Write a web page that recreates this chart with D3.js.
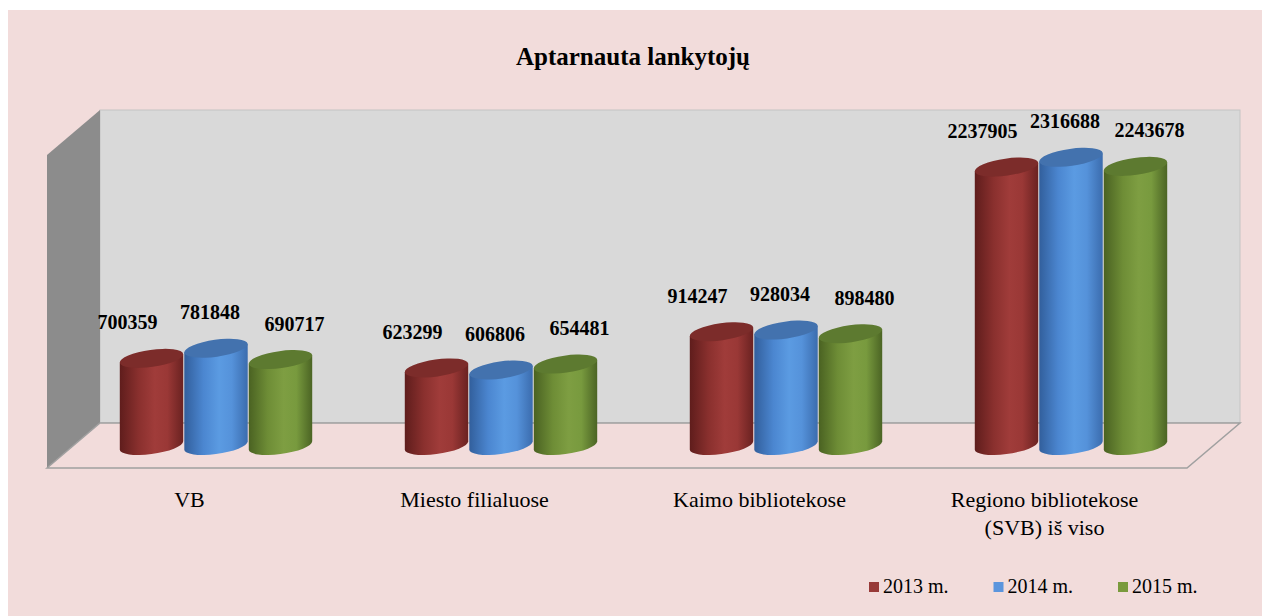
<!DOCTYPE html>
<html>
<head>
<meta charset="utf-8">
<script src="https://cdn.jsdelivr.net/npm/d3@7.9.0/dist/d3.min.js"></script>
<style>
  body { margin: 0; background: #fff; }
  svg { display: block; font-family: "Liberation Serif", "Times New Roman", serif; }
</style>
</head>
<body>
<svg id="chart" width="1264" height="616"></svg>
<script>
const categories = ['VB', 'Miesto filialuose', 'Kaimo bibliotekose', 'Regiono bibliotekose (SVB) iš viso'];
const categoryLines = [['VB'], ['Miesto filialuose'], ['Kaimo bibliotekose'], ['Regiono bibliotekose', '(SVB) iš viso']];
const seriesNames = ['2013 m.', '2014 m.', '2015 m.'];
const values2013 = [700359, 623299, 914247, 2237905];
const values2014 = [781848, 606806, 928034, 2316688];
const values2015 = [690717, 654481, 898480, 2243678];
const seriesValues = [values2013, values2014, values2015];

// colours per series: gradient stops for the body, top cap, legend swatch
const palette = [
  { stops: ['#5f1d1c', '#8a302e', '#a03c3a', '#9a3836', '#6a2221'], top: '#7c2c2a', swatch: '#983a38' },
  { stops: ['#325f9c', '#4b86d0', '#5b9be2', '#5592da', '#3b6cae'], top: '#4372ae', swatch: '#5b95dd' },
  { stops: ['#4a6222', '#6e8d36', '#7e9e42', '#789a3e', '#4b6424'], top: '#5d7a30', swatch: '#7a9a3c' }
];

const svg = d3.select('#chart');
const defs = svg.append('defs');

// box geometry (oblique 3D)
const depthX = 53, depthY = 45;
const front = { x0: 47, x1: 1187, yFloor: 468, yTop: 155 };

svg.append('rect')
  .attr('x', 8).attr('y', 10).attr('width', 1254).attr('height', 606)
  .attr('fill', '#f2dcdb');

// back wall
svg.append('rect')
  .attr('x', front.x0 + depthX).attr('y', front.yTop - depthY)
  .attr('width', front.x1 - front.x0).attr('height', front.yFloor - front.yTop)
  .attr('fill', '#d9d9d9').attr('stroke', '#c4c4c4').attr('stroke-width', 1);

// side wall
svg.append('path')
  .attr('d', `M${front.x0},${front.yTop} L${front.x0 + depthX},${front.yTop - depthY} L${front.x0 + depthX},${front.yFloor - depthY} L${front.x0},${front.yFloor} Z`)
  .attr('fill', '#8c8c8c');

// floor
svg.append('path')
  .attr('d', `M${front.x0},${front.yFloor} L${front.x0 + depthX},${front.yFloor - depthY} L${front.x1 + depthX},${front.yFloor - depthY} L${front.x1},${front.yFloor} Z`)
  .attr('fill', '#f2dcdb').attr('stroke', '#a0a0a0').attr('stroke-width', 1.5);

// scales at mid depth
const midX = depthX / 2, midY = depthY / 2;
const x = d3.scaleBand()
  .domain(categories)
  .range([front.x0 + midX, front.x1 + midX]);
const xs = d3.scaleBand()
  .domain(seriesNames)
  .range([-96.75, 96.75]);
const y = d3.scaleLinear()
  .domain([0, 2500000])
  .range([front.yFloor - midY, front.yFloor - midY - 311]);

// gradients
palette.forEach((p, i) => {
  const g = defs.append('linearGradient').attr('id', `grad${i}`)
    .attr('x1', 0).attr('x2', 1).attr('y1', 0).attr('y2', 0);
  const offs = [0, 0.3, 0.55, 0.75, 1];
  p.stops.forEach((c, k) => g.append('stop').attr('offset', offs[k]).attr('stop-color', c));
});

// cylinders
const rx = 32, ry = 8.5, tilt = -8;
const th = tilt * Math.PI / 180;
const ext = Math.sqrt(rx * rx * Math.cos(th) ** 2 + ry * ry * Math.sin(th) ** 2);
const dyExt = -(rx * rx - ry * ry) * Math.sin(th) * Math.cos(th) / ext;

const bars = [];
categories.forEach((c, ci) => {
  seriesNames.forEach((s, si) => {
    bars.push({ cat: c, series: s, si, value: seriesValues[si][ci] });
  });
});

const labelDx = [-24, -6, 14];

const cyl = svg.append('g').selectAll('g')
  .data(bars)
  .join('g');

cyl.each(function(d) {
  const g = d3.select(this);
  const cx = x(d.cat) + x.bandwidth() / 2 + xs(d.series) + xs.bandwidth() / 2;
  const yb = y(0), yt = y(d.value);
  const body = `M${cx - ext},${yt + dyExt} L${cx - ext},${yb + dyExt} ` +
    `A${rx},${ry} ${tilt} 0 0 ${cx + ext},${yb - dyExt} L${cx + ext},${yt - dyExt} Z`;
  g.append('path').attr('d', body).attr('fill', `url(#grad${d.si})`);
  g.append('ellipse')
    .attr('cx', cx).attr('cy', yt).attr('rx', rx).attr('ry', ry)
    .attr('transform', `rotate(${tilt},${cx},${yt})`)
    .attr('fill', palette[d.si].top);
  d.cx = cx; d.yt = yt;
});

// value labels
svg.append('g').selectAll('text')
  .data(bars)
  .join('text')
    .attr('x', d => d.cx + labelDx[d.si])
    .attr('y', d => d.yt - 29)
    .attr('text-anchor', 'middle')
    .attr('font-size', 20)
    .attr('font-weight', 'bold')
    .attr('fill', '#000')
    .text(d => d.value);

// category labels (front edge of floor)
const xFront = d3.scaleBand().domain(categories).range([front.x0, front.x1]);
const catG = svg.append('g').selectAll('text')
  .data(categories)
  .join('text')
    .attr('x', d => xFront(d) + xFront.bandwidth() / 2)
    .attr('y', 507)
    .attr('text-anchor', 'middle')
    .attr('font-size', 22)
    .attr('fill', '#000');
catG.each(function(d, i) {
  d3.select(this).selectAll('tspan')
    .data(categoryLines[i])
    .join('tspan')
      .attr('x', xFront(d) + xFront.bandwidth() / 2)
      .attr('dy', (_, k) => k === 0 ? 0 : 28)
      .text(t => t);
});

// title
svg.append('text')
  .attr('x', 633).attr('y', 65)
  .attr('text-anchor', 'middle')
  .attr('font-size', 25).attr('font-weight', 'bold')
  .text('Aptarnauta lankytojų');

// legend
const legend = svg.append('g').selectAll('g')
  .data(seriesNames)
  .join('g')
    .attr('transform', (_, i) => `translate(${869 + i * 124.5},582)`);
legend.append('rect')
  .attr('width', 10).attr('height', 10)
  .attr('fill', (_, i) => palette[i].swatch);
legend.append('text')
  .attr('x', 14).attr('y', 11)
  .attr('font-size', 20)
  .text(d => d);
</script>
</body>
</html>
